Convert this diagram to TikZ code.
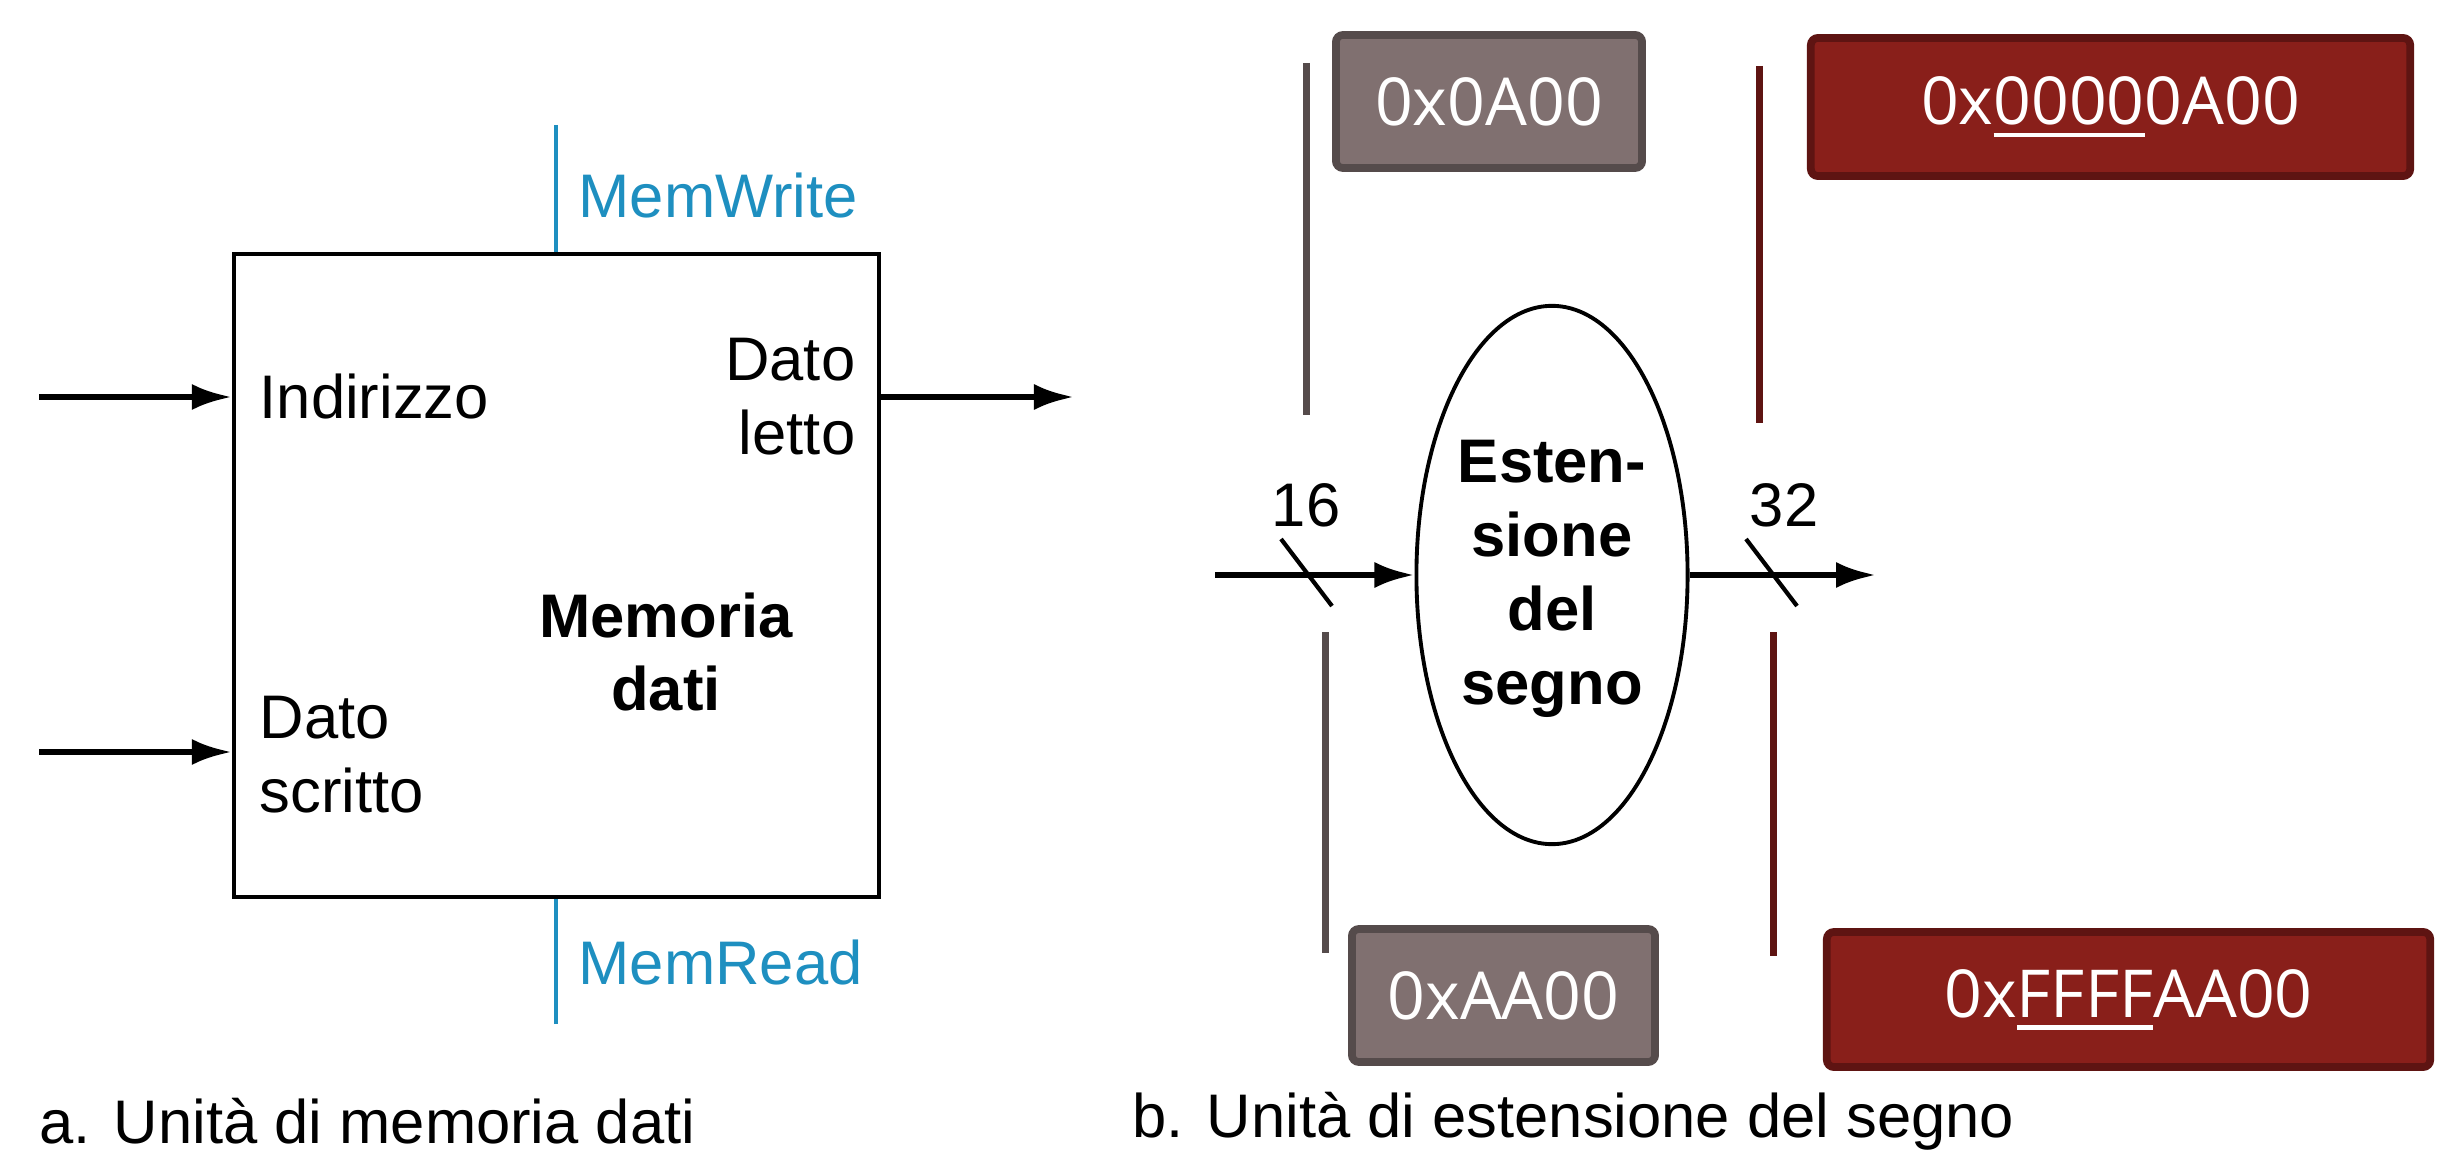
\documentclass[tikz,border=0pt]{standalone}
\usepackage{fontspec}
\setmainfont{Liberation Sans}
\newfontfamily\hexfont{Open Sans}
\usetikzlibrary{arrows.meta,shapes.geometric}
\definecolor{ctrlblue}{RGB}{30,143,192}
\definecolor{greyfill}{RGB}{128,112,112}
\definecolor{greyedge}{RGB}{85,75,75}
\definecolor{redfill}{RGB}{137,31,26}
\definecolor{rededge}{RGB}{94,20,18}
\newsavebox{\hexulbox}
\newcommand\hexul[1]{\sbox{\hexulbox}{#1}\rlap{\rule[-0.19em]{\wd\hexulbox}{0.065em}}\usebox{\hexulbox}}
\begin{document}
\begin{tikzpicture}[x=0.01cm,y=-0.01cm,
  lbl/.style={font=\fontsize{17.5}{21}\selectfont, inner sep=0pt},
  bold/.style={font=\fontsize{17.5}{21}\selectfont\bfseries, inner sep=0pt, align=center},
  arr/.style={line width=1.8pt, -{Latex[length=0.40cm,width=0.26cm]}},
  ctrl/.style={draw=ctrlblue, line width=1.1pt},
  ctrltext/.style={lbl, text=ctrlblue},
  slash/.style={line width=1.2pt},
  greyline/.style={draw=greyedge, line width=2pt},
  redline/.style={draw=rededge, line width=2pt},
  hexbox/.style={rectangle, rounded corners=2pt, line width=2.2pt, text=white,
    font=\hexfont\fontsize{18.8}{22}\selectfont, inner sep=0pt},
  greybox/.style={hexbox, draw=greyedge, fill=greyfill},
  redbox/.style={hexbox, draw=rededge, fill=redfill}]
\useasboundingbox (0,0) rectangle (2458,1164);

% ---------- a. data memory ----------
\node (mem) [draw, line width=1.1pt, minimum width=6.45cm, minimum height=6.43cm, inner sep=0pt] at (556.5,575.5) {};
\coordinate (inA) at (39,397);
\coordinate (inD) at (39,752);
\coordinate (outL) at (1074,397);
\coordinate (mw) at (556,125);
\coordinate (mr) at (556,1024);
\draw[arr] (inA) -- (inA -| mem.west);
\draw[arr] (inD) -- (inD -| mem.west);
\draw[arr] (outL -| mem.east) -- (outL);
\draw[ctrl] (mw) -- (mw |- mem.north);
\draw[ctrl] (mr) -- (mr |- mem.south);
\node (indir) [lbl, anchor=west] at (259,397) {Indirizzo};
\node (dscr) [lbl, anchor=west, align=left] at (259,755) {Dato\\scritto};
\node (dlet) [lbl, anchor=east, align=right] at (856,397) {Dato\\letto};
\node (memw) [ctrltext, anchor=west] at (578,196) {MemWrite};
\node (memr) [ctrltext, anchor=west] at (578,962) {MemRead};
\node (memt) [bold] at (666,652) {Memoria\\dati};
\node (capa) [lbl, anchor=west] at (39,1121) {a. Unità di memoria dati};

% ---------- b. sign extension ----------
\node (ext) [ellipse, draw, line width=1.1pt, minimum width=2.71cm, minimum height=5.38cm, inner sep=0pt] at (1552,575) {};
\node (extt) [bold] at (1552,579) {Esten-\\sione\\del\\segno};
\coordinate (inE) at (1215,575);
\coordinate (outE) at (1876,575);
\draw[arr] (inE) -- (ext.west);
\draw[arr] (ext.east) -- (outE);
\coordinate (s1a) at (1281,539);
\coordinate (s1b) at (1332,606);
\coordinate (s2a) at (1746,539);
\coordinate (s2b) at (1797,606);
\draw[slash] (s1a) -- (s1b);
\draw[slash] (s2a) -- (s2b);
\node (n16) [lbl] at (1306,505) {16};
\node (n32) [lbl] at (1784,505) {32};
\node (capb) [lbl, anchor=west] at (1132,1121) {b. Unità di estensione del segno};

% bars
\coordinate (g1a) at (1306,63);  \coordinate (g1b) at (1306,415);
\coordinate (g2a) at (1325,632); \coordinate (g2b) at (1325,953);
\coordinate (r1a) at (1759,66);  \coordinate (r1b) at (1759,423);
\coordinate (r2a) at (1773,632); \coordinate (r2b) at (1773,956);
\draw[greyline] (g1a) -- (g1b);
\draw[greyline] (g2a) -- (g2b);
\draw[redline] (r1a) -- (r1b);
\draw[redline] (r2a) -- (r2b);

% value boxes
\node (gt) [greybox, minimum width=3.06cm, minimum height=1.33cm] at (1489,101.5) {0x0A00};
\node (gb) [greybox, minimum width=3.03cm, minimum height=1.33cm] at (1503.5,995.5) {0xAA00};
\node (rt) [redbox, minimum width=5.99cm, minimum height=1.38cm] at (2110.5,107) {0x\hexul{0000}0A00};
\node (rb) [redbox, minimum width=6.03cm, minimum height=1.35cm] at (2128.5,999.5) {0x\hexul{FFFF}AA00};
\end{tikzpicture}
\end{document}
